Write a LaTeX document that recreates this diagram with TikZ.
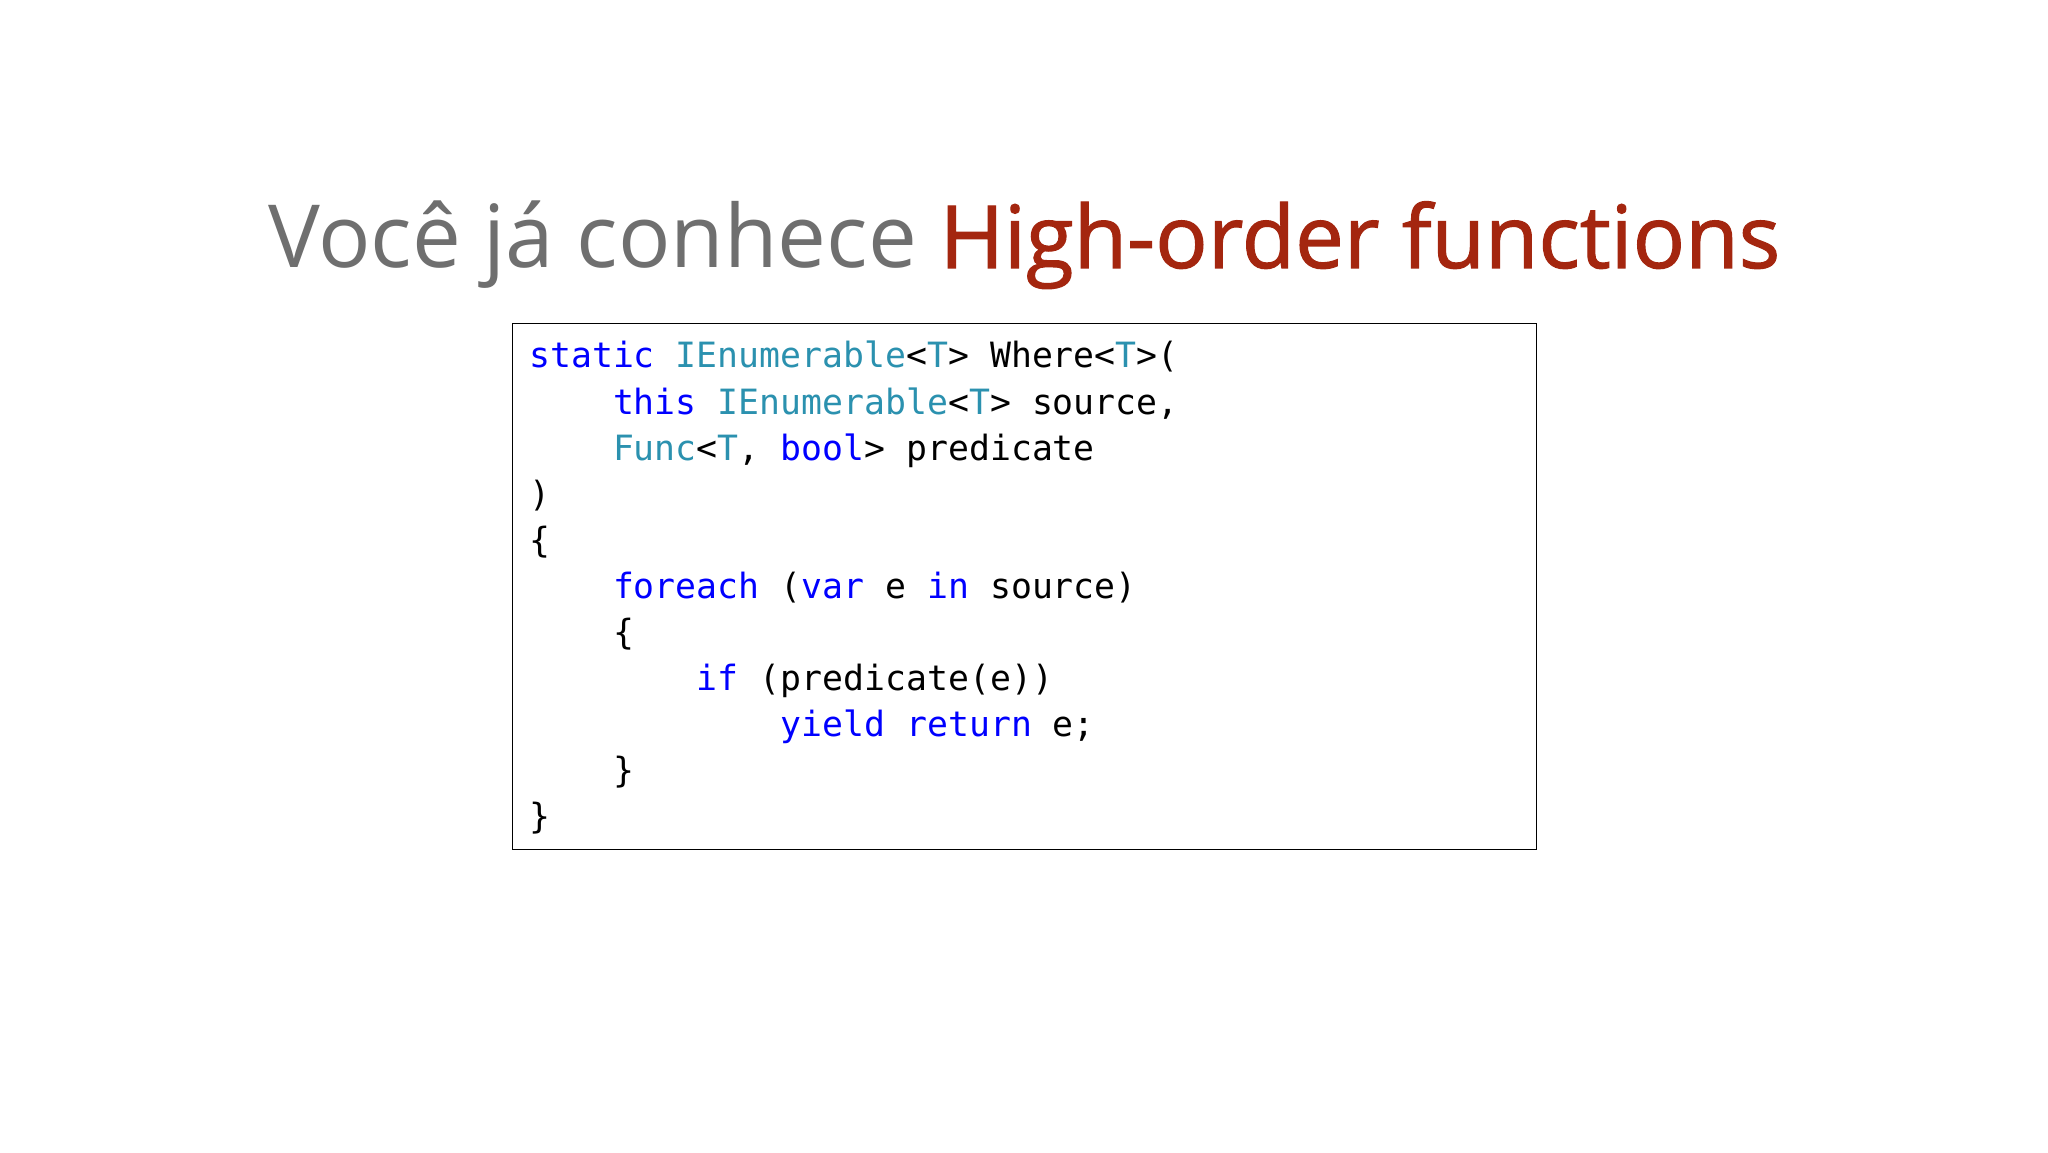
\documentclass[tikz,border=0pt]{standalone}
\usepackage{fontspec}
\setmainfont{Open Sans}
\newfontfamily\semib[FakeBold=1.3]{Open Sans}
\newfontfamily\codefont{DejaVu Sans Mono}
\definecolor{titlegray}{HTML}{6F6F6F}
\definecolor{titlered}{HTML}{A4260F}
\definecolor{kwblue}{HTML}{0000FF}
\definecolor{tyteal}{HTML}{2B91AF}
\newcommand{\kw}[1]{\textcolor{kwblue}{#1}}
\newcommand{\ty}[1]{\textcolor{tyteal}{#1}}
\begin{document}
\begin{tikzpicture}[x=1pt,y=1pt,
  codeline/.style={anchor=base west,inner sep=0pt,font=\codefont\fontsize{34.8}{40}\selectfont}]
\useasboundingbox[fill=white] (0,0) rectangle (2048,1152);
\node[anchor=base west,inner sep=0pt] (title) at (268,884)
  {\resizebox{1511pt}{!}{\textcolor{titlegray}{Você já conhece} \textcolor{titlered}{\semib High-order functions}}};
\node[draw=black,line width=1.3pt,minimum width=1024pt,minimum height=526pt,anchor=south west,inner sep=0pt] (box) at (512,302) {};
\def\cw{20.95}
\def\lh{46.1}
\node[codeline] (l1) at (529,784) {\kw{static} \ty{IEnumerable}<\ty{T}> Where<\ty{T}>(};
\node[codeline] (l2) at (529+4*\cw,784-\lh) {\kw{this} \ty{IEnumerable}<\ty{T}> source,};
\node[codeline] (l3) at (529+4*\cw,784-2*\lh) {\ty{Func}<\ty{T}, \kw{bool}> predicate};
\node[codeline] (l4) at (529,784-3*\lh) {)};
\node[codeline] (l5) at (529,784-4*\lh) {\{};
\node[codeline] (l6) at (529+4*\cw,784-5*\lh) {\kw{foreach} (\kw{var} e \kw{in} source)};
\node[codeline] (l7) at (529+4*\cw,784-6*\lh) {\{};
\node[codeline] (l8) at (529+8*\cw,784-7*\lh) {\kw{if} (predicate(e))};
\node[codeline] (l9) at (529+12*\cw,784-8*\lh) {\kw{yield} \kw{return} e;};
\node[codeline] (l10) at (529+4*\cw,784-9*\lh) {\}};
\node[codeline] (l11) at (529,784-10*\lh) {\}};
\end{tikzpicture}
\end{document}
